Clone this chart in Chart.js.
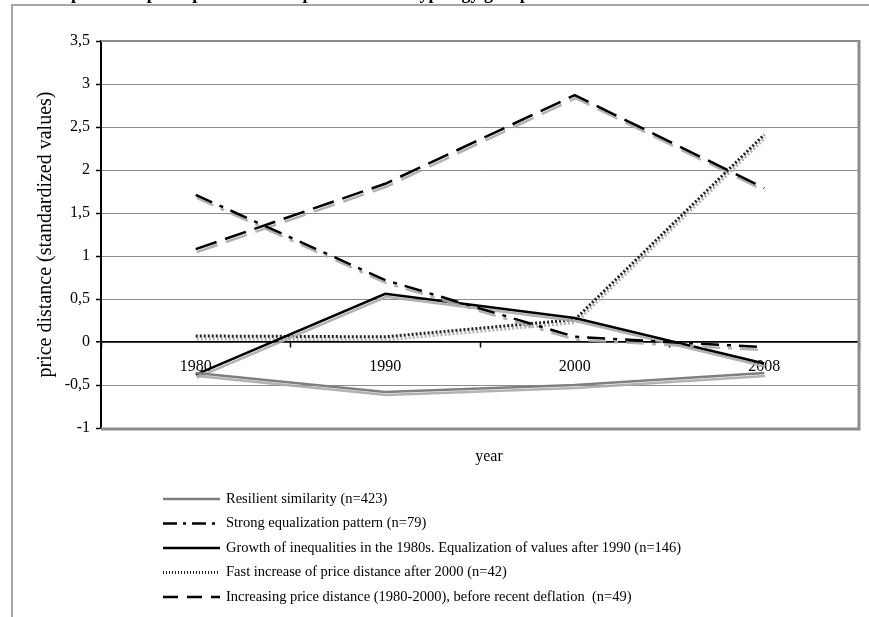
<!DOCTYPE html>
<html>
<head>
<meta charset="utf-8">
<script src="https://cdn.jsdelivr.net/npm/chart.js@4.4.1/dist/chart.umd.min.js"></script>
<style>
  html, body { margin: 0; padding: 0; background: #fff; }
  #wrap { width: 869px; height: 617px; }
</style>
</head>
<body>
<div id="wrap"><canvas id="chart" width="869" height="617"></canvas></div>
<script>
// years on the x axis
const years = ["1980", "1990", "2000", "2008"];

// standardized price distance per cluster
const resilient = [-0.36, -0.58, -0.50, -0.36];
const strongEq = [1.71, 0.72, 0.06, -0.06];
const growth80s = [-0.38, 0.56, 0.28, -0.25];
const fastAfter2000 = [0.07, 0.06, 0.26, 2.41];
const increasing = [1.08, 1.84, 2.87, 1.79];

const seriesNames = [
  "Resilient similarity (n=423)",
  "Strong equalization pattern (n=79)",
  "Growth of inequalities in the 1980s. Equalization of values after 1990 (n=146)",
  "Fast increase of price distance after 2000 (n=42)",
  "Increasing price distance (1980-2000), before recent deflation  (n=49)"
];

const yTicks = [-1, -0.5, 0, 0.5, 1, 1.5, 2, 2.5, 3, 3.5];

const serif = "'Liberation Serif', 'Times New Roman', serif";

// gray drop shadow under every line, like the Excel original
const shadowPlugin = {
  id: "shadow",
  beforeDatasetDraw(chart) {
    const c = chart.ctx;
    c.save();
    c.shadowColor = "rgba(170,170,170,0.9)";
    c.shadowOffsetX = 1;
    c.shadowOffsetY = 3;
    c.shadowBlur = 0;
  },
  afterDatasetDraw(chart) {
    chart.ctx.restore();
  }
};

// frame, plot border, "year" label, title and the one-per-row legend
const decorPlugin = {
  id: "decor",
  beforeDraw(chart) {
    const c = chart.ctx;
    c.save();
    c.fillStyle = "#fff";
    c.fillRect(0, 0, chart.width, chart.height);
    // clipped title at the very top
    c.fillStyle = "#000";
    c.font = "bold 18px " + serif;
    c.textBaseline = "alphabetic";
    c.fillText("Graph 3. Temporal profiles of the price distance typology groups", 40, -1);
    c.strokeStyle = "#a6a6a6";
    c.lineWidth = 2;
    c.strokeRect(12, 5, 900, 700);
    c.restore();
  },
  afterDraw(chart) {
    const c = chart.ctx;
    const a = chart.chartArea;
    c.save();
    c.strokeStyle = "#8c8c8c";
    c.lineWidth = 3;
    c.beginPath();
    c.moveTo(a.right, a.top - 1);
    c.lineTo(a.right, a.bottom + 1);
    c.lineTo(a.left, a.bottom + 1);
    c.stroke();
    c.lineWidth = 2;
    c.beginPath();
    c.moveTo(a.left, a.top);
    c.lineTo(a.right, a.top);
    c.stroke();

    c.fillStyle = "#000";
    c.font = "16px " + serif;
    c.textAlign = "center";
    c.textBaseline = "middle";
    c.fillText("year", 489, 457);

    // legend
    c.textAlign = "left";
    c.font = "14.5px " + serif;
    chart.data.datasets.forEach((ds, i) => {
      const y = 499 + i * 24.5;
      c.save();
      c.strokeStyle = ds.borderColor;
      c.lineWidth = ds.borderWidth;
      c.setLineDash(ds.legendDash || []);
      c.beginPath();
      c.moveTo(163, y);
      c.lineTo(220, y);
      c.stroke();
      c.restore();
      c.fillText(ds.label, 226, y);
    });
    c.restore();
  }
};

const ctx = document.getElementById("chart").getContext("2d");
new Chart(ctx, {
  type: "line",
  data: {
    labels: years,
    datasets: [
      { label: seriesNames[0], data: resilient, borderColor: "#7f7f7f", borderWidth: 2.5, borderDash: [], legendDash: [] },
      { label: seriesNames[1], data: strongEq, borderColor: "#000", borderWidth: 2.5, borderDash: [18, 8, 4, 8], legendDash: [14, 6, 3, 6] },
      { label: seriesNames[2], data: growth80s, borderColor: "#000", borderWidth: 2.5, borderDash: [], legendDash: [] },
      { label: seriesNames[3], data: fastAfter2000, borderColor: "#222", borderWidth: 3, borderDash: [2, 2], legendDash: [1, 2] },
      { label: seriesNames[4], data: increasing, borderColor: "#000", borderWidth: 2.5, borderDash: [22, 9], legendDash: [15, 9] }
    ]
  },
  options: {
    responsive: false,
    animation: false,
    layout: { padding: { left: 34, right: 10, top: 41, bottom: 189 } },
    elements: {
      point: { radius: 0, hoverRadius: 0 },
      line: { tension: 0, borderCapStyle: "butt", borderJoinStyle: "miter" }
    },
    plugins: {
      legend: { display: false },
      tooltip: { enabled: false },
      title: { display: false }
    },
    scales: {
      x: {
        position: { y: 0 },
        offset: true,
        grid: {
          offset: true,
          drawOnChartArea: false,
          drawTicks: true,
          tickLength: 5,
          tickColor: "#000",
          tickWidth: 1.5
        },
        border: { display: true, color: "#000", width: 1.5 },
        ticks: {
          color: "#000",
          padding: 10,
          maxRotation: 0,
          font: { family: serif, size: 16 }
        }
      },
      y: {
        min: -1,
        max: 3.5,
        afterFit(scale) { scale.width = 67; },
        afterBuildTicks(scale) { scale.ticks = yTicks.map(v => ({ value: v })); },
        grid: {
          color(c) { return c.tick && c.tick.value === 0 ? "#000" : "#8c8c8c"; },
          lineWidth(c) {
            if (!c.tick) return 1;
            if (c.tick.value === 0) return 1.5;
            return 1;
          },
          tickLength: 5,
          tickColor: "#000",
          tickWidth: 1.5
        },
        border: { display: true, color: "#000", width: 2 },
        ticks: {
          color: "#000",
          padding: 6,
          font: { family: serif, size: 16 },
          callback(v) { return String(v).replace(".", ","); }
        },
        title: {
          display: true,
          text: "price distance (standardized values)",
          color: "#000",
          padding: 0,
          font: { family: serif, size: 20 }
        }
      }
    }
  },
  plugins: [shadowPlugin, decorPlugin]
});
</script>
</body>
</html>
